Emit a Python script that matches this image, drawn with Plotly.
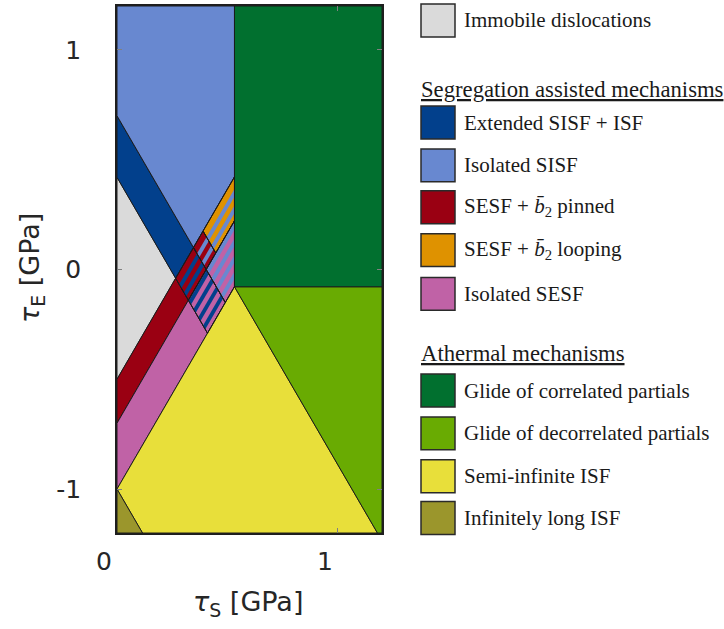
import numpy as np
import plotly.graph_objects as go

SQ3 = np.sqrt(3.0)

# ---------------- data (GPa) ----------------
X_RANGE = [0.0, 1.2]
Y_RANGE = [-1.2, 1.2]
X_TICKS = [0, 1]
X_TICKTEXT = ["0", "1"]
Y_TICKS = [-1, 0, 1]
Y_TICKTEXT = ["-1", "0", "1"]

# rising boundaries: tau_E = +sqrt(3)*tau_S + c
C_UP = {"L1": -1.00, "L2": -0.70, "L3": -0.50}
# falling boundaries: tau_E = -sqrt(3)*tau_S + c
C_DN = {"L0": -1.00, "L4": 0.42, "L5": 0.70, "L6": 0.85}
TAU_S_CRIT = 0.532                     # vertical boundary
TAU_E_CRIT = SQ3 * TAU_S_CRIT + C_UP["L1"]   # apex of the yellow triangle
C_L7 = TAU_E_CRIT + SQ3 * TAU_S_CRIT   # falling edge of the yellow triangle

# hatch stripes (intercepts of rising stripe lines)
STRIPE_STARTS = [-0.965, -0.89, -0.815, -0.74, -0.665, -0.59]
STRIPE_WIDTH = 0.035

LEG_NAMES = ["Immobile dislocations",
             "Extended SISF + ISF", "Isolated SISF",
             "SESF + <i>b\u0304</i><sub>2</sub> pinned",
             "SESF + <i>b\u0304</i><sub>2</sub> looping",
             "Isolated SESF",
             "Glide of correlated partials", "Glide of decorrelated partials",
             "Semi-infinite ISF", "Infinitely long ISF"]
LEG_COLORS = ["#dadada", "#02408c", "#6888d0", "#9a0012", "#df9200", "#c062a6",
              "#01702f", "#69ab02", "#e8df3a", "#9b962c"]
LEG_YPX = [18.5, 121, 164, 206, 249, 293, 390, 433, 476, 518]
HEADERS = ["Segregation assisted mechanisms", "Athermal mechanisms"]
HEAD_YPX = [88, 353]

COL = dict(zip(["gray", "dblue", "lblue", "red", "orange", "pink",
                "dgreen", "lgreen", "yellow", "olive"], LEG_COLORS))

# ---------------- geometry helpers ----------------
def above_up(c):  return (-SQ3, 1.0, -c)
def below_up(c):  return (SQ3, -1.0, c)
def above_dn(c):  return (SQ3, 1.0, -c)
def below_dn(c):  return (-SQ3, -1.0, c)
def left_of(a):   return (-1.0, 0.0, a)
def right_of(a):  return (1.0, 0.0, -a)
def above_h(h):   return (0.0, 1.0, -h)
def below_h(h):   return (0.0, -1.0, h)


def clip(poly, hp):
    a, b, c = hp
    out = []
    n = len(poly)
    for i in range(n):
        P, Q = poly[i], poly[(i + 1) % n]
        fp = a * P[0] + b * P[1] + c
        fq = a * Q[0] + b * Q[1] + c
        if fp >= 0:
            out.append(P)
        if (fp >= 0) != (fq >= 0):
            t = fp / (fp - fq)
            out.append((P[0] + t * (Q[0] - P[0]), P[1] + t * (Q[1] - P[1])))
    return out


def region(constraints):
    poly = [(X_RANGE[0], Y_RANGE[0]), (X_RANGE[1], Y_RANGE[0]),
            (X_RANGE[1], Y_RANGE[1]), (X_RANGE[0], Y_RANGE[1])]
    for hp in constraints:
        poly = clip(poly, hp)
        if not poly:
            break
    return poly


U1, U2, U3 = C_UP["L1"], C_UP["L2"], C_UP["L3"]
D0, D4, D5, D6 = C_DN["L0"], C_DN["L4"], C_DN["L5"], C_DN["L6"]
A = TAU_S_CRIT

REGIONS = [
    ("gray",   [above_up(U3), below_dn(D4)], None),
    ("dblue",  [above_up(U3), above_dn(D4), below_dn(D5)], None),
    ("lblue",  [above_up(U3), above_dn(D5), left_of(A)], None),
    ("red",    [above_up(U2), below_up(U3), below_dn(D4)], None),
    ("red",    [above_up(U2), below_up(U3), above_dn(D4), below_dn(D5)], "dblue"),
    ("red",    [above_up(U2), below_up(U3), above_dn(D5), below_dn(D6)], "lblue"),
    ("orange", [above_up(U2), below_up(U3), above_dn(D6), left_of(A)], "lblue"),
    ("pink",   [above_up(U1), below_up(U2), below_dn(D4)], None),
    ("pink",   [above_up(U1), below_up(U2), above_dn(D4), below_dn(D5)], "dblue"),
    ("pink",   [above_up(U1), below_up(U2), above_dn(D5), left_of(A)], "lblue"),
    ("yellow", [below_up(U1), above_dn(D0), below_dn(C_L7)], None),
    ("olive",  [below_dn(D0)], None),
    ("lgreen", [below_h(TAU_E_CRIT), above_dn(C_L7)], None),
    ("dgreen", [right_of(A), above_h(TAU_E_CRIT)], None),
]

EDGE = "rgba(25,25,25,0.95)"

fig = go.Figure()
outlines = []
for cname, cons, stripe in REGIONS:
    poly = region(cons)
    if len(poly) < 3:
        continue
    xs = [p[0] for p in poly] + [poly[0][0]]
    ys = [p[1] for p in poly] + [poly[0][1]]
    fig.add_trace(go.Scatter(x=xs, y=ys, fill="toself", mode="lines",
                             fillcolor=COL[cname], line=dict(color=EDGE, width=1),
                             hoverinfo="skip", showlegend=False))
    if stripe:
        for s in STRIPE_STARTS:
            sp = poly
            for hp in (above_up(s), below_up(s + STRIPE_WIDTH)):
                sp = clip(sp, hp)
                if not sp:
                    break
            if len(sp) >= 3:
                fig.add_trace(go.Scatter(
                    x=[p[0] for p in sp] + [sp[0][0]],
                    y=[p[1] for p in sp] + [sp[0][1]],
                    fill="toself", mode="none", fillcolor=COL[stripe],
                    hoverinfo="skip", showlegend=False))
        outlines.append((xs, ys))

for xs, ys in outlines:
    fig.add_trace(go.Scatter(x=xs, y=ys, mode="lines",
                             line=dict(color=EDGE, width=1),
                             hoverinfo="skip", showlegend=False))

# ---------------- layout ----------------
W, H = 724, 629
PL, PR, PT, PB = 117, 382, 4, 533


def pxx(px):
    return (px - PL) / (PR - PL)


def pxy(py):
    return (PB - py) / (PB - PT)


SANS = "DejaVu Sans, Liberation Sans, Arial, sans-serif"
SERIF = "Liberation Serif, Times New Roman, serif"
TXT = "#262626"

shapes = []
annots = []
for name, col, yc in zip(LEG_NAMES, LEG_COLORS, LEG_YPX):
    shapes.append(dict(type="rect", xref="paper", yref="paper",
                       x0=pxx(421), x1=pxx(455), y0=pxy(yc + 16.5), y1=pxy(yc - 16.5),
                       fillcolor=col, line=dict(color="#2a2a2a", width=1.5)))
    annots.append(dict(text=name, xref="paper", yref="paper", x=pxx(462), y=pxy(yc),
                       xanchor="left", yanchor="middle", showarrow=False,
                       font=dict(family=SERIF, size=21, color="#1a1a1a")))
for name, yc in zip(HEADERS, HEAD_YPX):
    annots.append(dict(text="<u>" + name + "</u>", xref="paper", yref="paper",
                       x=pxx(419), y=pxy(yc), xanchor="left", yanchor="middle",
                       showarrow=False,
                       font=dict(family=SERIF, size=22.7, color="#1a1a1a")))

annots.append(dict(text="<i>τ</i><sub>S</sub> [GPa]", xref="paper", yref="paper",
                   x=pxx(248), y=pxy(604), xanchor="center", yanchor="middle",
                   showarrow=False, font=dict(family=SANS, size=27, color=TXT)))
annots.append(dict(text="<i>τ</i><sub>E</sub> [GPa]", xref="paper", yref="paper",
                   x=pxx(31), y=pxy(267), xanchor="center", yanchor="middle",
                   textangle=-90, showarrow=False,
                   font=dict(family=SANS, size=27, color=TXT)))

axis_common = dict(showgrid=False, zeroline=False, showline=True, mirror="ticks",
                   linecolor="#1e1e1e", linewidth=1.5, ticks="inside", ticklen=5,
                   tickwidth=1, tickcolor="#808080",
                   tickfont=dict(family=SANS, size=25, color=TXT))

fig.update_layout(
    width=W, height=H, autosize=False,
    margin=dict(l=PL, r=W - PR, t=PT, b=H - PB, pad=0),
    paper_bgcolor="white", plot_bgcolor="white",
    xaxis=dict(range=X_RANGE, tickvals=X_TICKS, ticktext=X_TICKTEXT,
               ticklabelshift=-13, ticklabelstandoff=5, **axis_common),
    yaxis=dict(range=Y_RANGE, tickvals=Y_TICKS, ticktext=Y_TICKTEXT,
               ticklabelstandoff=29, **axis_common),
    shapes=shapes, annotations=annots,
)

fig.write_html("out.html")
